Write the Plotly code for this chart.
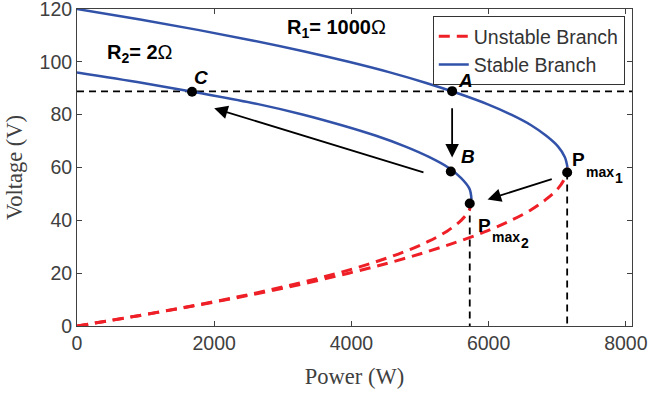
import plotly.graph_objects as go

# ---------------- data ----------------
# Curve 1 (R1) stable / unstable branches: power (W) and voltage (V)
c1_stable_V = [120, 116, 112, 108, 104, 100, 96, 92, 88, 84, 80, 76, 72, 68, 64, 60]
c1_stable_P = [0, 920, 1780, 2575, 3300, 3960, 4560, 5090, 5560, 5980, 6330, 6620, 6840, 7010, 7110, 7150]
c1_unstable_V = [0, 4, 8, 12, 16, 20, 24, 28, 32, 36, 40, 44, 48, 52, 56, 60]
c1_unstable_P = [0, 920, 1780, 2575, 3300, 3960, 4560, 5090, 5560, 5980, 6330, 6620, 6840, 7010, 7110, 7150]

# Curve 2 (R2)
c2_stable_V = [96, 92, 88, 84, 80, 76, 72, 68, 64, 60, 56, 52, 48]
c2_stable_P = [0, 960, 1830, 2640, 3300, 3860, 4360, 4780, 5130, 5410, 5600, 5720, 5750]
c2_unstable_V = [0, 4, 8, 12, 16, 20, 24, 28, 32, 36, 40, 44, 48]
c2_unstable_P = [0, 920, 1760, 2520, 3200, 3800, 4320, 4760, 5120, 5400, 5600, 5720, 5750]

# Operating points
pt_names = ["A", "B", "C", "Pmax1", "Pmax2"]
pt_P = [5468, 5449, 1677, 7145, 5725]
pt_V = [88.9, 58.5, 88.7, 58.1, 46.4]

# Reference voltage line
v_ref = 88.8

# Arrows (tail -> head)
arrow_tail_P = [5468, 5072, 6942]
arrow_tail_V = [83.0, 58.0, 55.8]
arrow_head_P = [5468, 2000, 5985]
arrow_head_V = [63.8, 82.4, 47.9]

x_ticks = [0, 2000, 4000, 6000, 8000]
y_ticks = [0, 20, 40, 60, 80, 100, 120]

X_MAX = 8090

BLUE = "#3152A8"
RED = "#EE1F26"
GRAY = "#404040"
SANS = "Liberation Sans, Arial"
SERIF = "Liberation Serif, Times New Roman"

fig = go.Figure()

# dashed reference lines
fig.add_trace(go.Scatter(x=[0, X_MAX], y=[v_ref, v_ref], mode="lines",
                         line=dict(color="black", width=1.8, dash="7px,5px"),
                         showlegend=False, hoverinfo="skip"))
for i in (3, 4):
    fig.add_trace(go.Scatter(x=[pt_P[i], pt_P[i]], y=[pt_V[i], 0], mode="lines",
                             line=dict(color="black", width=1.8, dash="7px,5px"),
                             showlegend=False, hoverinfo="skip"))

# curves
fig.add_trace(go.Scatter(x=c1_unstable_P, y=c1_unstable_V, mode="lines", name="Unstable Branch",
                         line=dict(color=RED, width=3, dash="11px,7px", shape="spline"),
                         legendrank=1))
fig.add_trace(go.Scatter(x=c2_unstable_P, y=c2_unstable_V, mode="lines", name="Unstable Branch",
                         line=dict(color=RED, width=3, dash="11px,7px", shape="spline"),
                         showlegend=False))
fig.add_trace(go.Scatter(x=c1_stable_P, y=c1_stable_V, mode="lines", name="Stable Branch",
                         line=dict(color=BLUE, width=2.5, shape="spline"), legendrank=2))
fig.add_trace(go.Scatter(x=c2_stable_P, y=c2_stable_V, mode="lines", name="Stable Branch",
                         line=dict(color=BLUE, width=2.5, shape="spline"), showlegend=False))

# points
fig.add_trace(go.Scatter(x=pt_P, y=pt_V, mode="markers",
                         marker=dict(color="black", size=10), showlegend=False))

annotations = []
for tp, tv, hp, hv in zip(arrow_tail_P, arrow_tail_V, arrow_head_P, arrow_head_V):
    annotations.append(dict(x=hp, y=hv, ax=tp, ay=tv, xref="x", yref="y", axref="x", ayref="y",
                            text="", showarrow=True, arrowhead=2, arrowsize=1.5,
                            arrowwidth=1.8, arrowcolor="black"))

lab_font = dict(family=SANS, size=19, color="black")
small_font = dict(family=SANS, size=14, color="black")
label_offsets = {"A": (13, 11), "B": (17, 15), "C": (9, 14)}
for name, p, v in zip(pt_names, pt_P, pt_V):
    if name in label_offsets:
        dx, dy = label_offsets[name]
        annotations.append(dict(x=p, y=v, xref="x", yref="y", text="<b><i>%s</i></b>" % name,
                                showarrow=False, xshift=dx, yshift=dy, font=lab_font))

# Pmax labels: (point index, subscript, x shift, y shift of "P")
for idx, sub, dx, dy in ((3, "1", 3, 13), (4, "2", 6, -22)):
    annotations.append(dict(x=pt_P[idx], y=pt_V[idx], xref="x", yref="y",
                            text="<b>P</b>", showarrow=False, xanchor="left",
                            xshift=dx, yshift=dy, font=lab_font))
    annotations.append(dict(x=pt_P[idx], y=pt_V[idx], xref="x", yref="y",
                            text="<b>max</b>", showarrow=False, xanchor="left",
                            xshift=dx + 14, yshift=dy - 12, font=small_font))
    annotations.append(dict(x=pt_P[idx], y=pt_V[idx], xref="x", yref="y",
                            text="<b>%s</b>" % sub, showarrow=False, xanchor="left",
                            xshift=dx + 43, yshift=dy - 18, font=small_font))

# resistance labels
annotations.append(dict(x=3780, y=112.5, xref="x", yref="y",
                        text="<b>R<sub>1</sub>= 1000</b>Ω", showarrow=False,
                        font=dict(family=SANS, size=20, color="black")))
annotations.append(dict(x=925, y=103, xref="x", yref="y",
                        text="<b>R<sub>2</sub>= 2</b>Ω", showarrow=False,
                        font=dict(family=SANS, size=20, color="black")))

axis_common = dict(showline=True, linecolor=GRAY, linewidth=1, mirror="allticks",
                   ticks="inside", ticklen=5, tickcolor=GRAY, showgrid=False, zeroline=False,
                   ticklabeloverflow="allow", automargin=False,
                   tickfont=dict(family=SANS, size=19.5, color=GRAY))

fig.update_layout(
    width=649, height=401,
    margin=dict(l=77, r=17, t=9, b=75),
    plot_bgcolor="white", paper_bgcolor="white",
    xaxis=dict(range=[0, X_MAX], tickvals=x_ticks,
               title=dict(text="Power (W)", font=dict(family=SERIF, size=22.5, color=GRAY), standoff=14),
               **axis_common),
    yaxis=dict(range=[0, 120], tickvals=y_ticks,
               title=dict(text="Voltage (V)", font=dict(family=SERIF, size=22.5, color=GRAY), standoff=10),
               **axis_common),
    legend=dict(x=0.987, y=0.978, xanchor="right", yanchor="top",
                bgcolor="white", bordercolor="#333333", borderwidth=1,
                font=dict(family=SANS, size=19.5, color="#333333"),
                tracegroupgap=0, itemwidth=30),
    annotations=annotations,
)

fig.write_html("out.html")
